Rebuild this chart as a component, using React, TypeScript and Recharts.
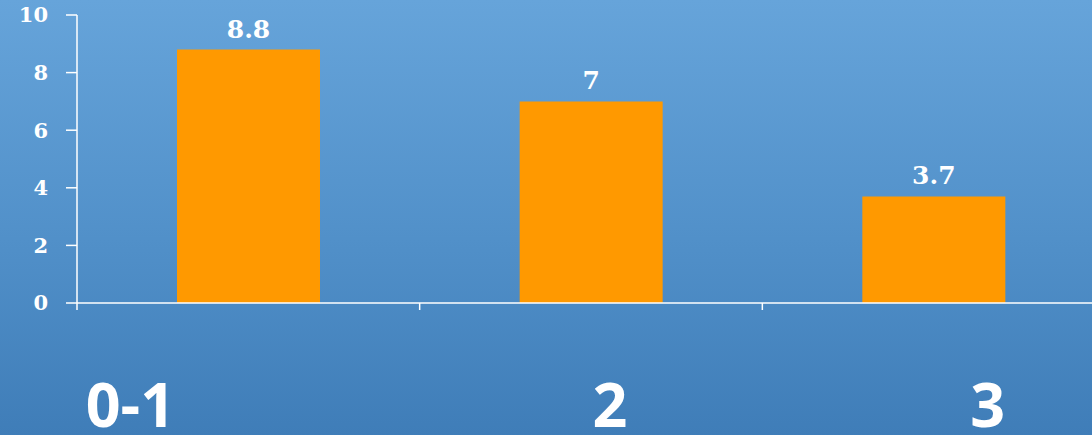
import { BarChart, Bar, XAxis, YAxis, LabelList } from "recharts";

const CATEGORIES = ["0-1", "2", "3"];
const VALUES = [8.8, 7, 3.7];
const Y_TICKS = [0, 2, 4, 6, 8, 10];

// layout
const CHART_W = 1105;
const CHART_H = 435;
const Y_W = 77;
const BAND = (CHART_W - Y_W) / CATEGORIES.length;
const LABEL_DX = [-118, 19, 54];

const data = CATEGORIES.map((c, i) => ({ name: c, value: VALUES[i] }));

const XTick = (props: any) => {
  const { x, y, payload, index } = props;
  const left = x - BAND / 2;
  return (
    <g>
      <line x1={left} x2={left} y1={y - 8} y2={y - 1} stroke="#fff" strokeWidth={1.5} />
      <text
        x={x + (LABEL_DX[index] ?? 0)}
        y={y + 116}
        textAnchor="middle"
        fill="#fff"
        fontFamily="'Open Sans', sans-serif"
        fontWeight={700}
        fontSize={61}
      >
        {payload.value}
      </text>
    </g>
  );
};

export default function App() {
  return (
    <div
      style={{
        position: "absolute",
        left: 0,
        top: 0,
        width: 1092,
        height: 435,
        overflow: "hidden",
        background: "linear-gradient(180deg, #66a4da 0%, #5190c9 55%, #3f7db8 100%)",
      }}
    >
      <BarChart
        width={CHART_W}
        height={CHART_H}
        data={data}
        margin={{ top: 15, right: 0, bottom: 0, left: 0 }}
        barSize={143}
      >
        <YAxis
          width={Y_W}
          domain={[0, 10]}
          ticks={Y_TICKS}
          axisLine={{ stroke: "#fff", strokeWidth: 1.5 }}
          tickLine={{ stroke: "#fff", strokeWidth: 1.5 }}
          tickSize={11}
          tickMargin={18}
          tick={{ fill: "#fff", fontFamily: "'DejaVu Serif', serif", fontWeight: 700, fontSize: 21 }}
        />
        <XAxis
          dataKey="name"
          height={132}
          axisLine={{ stroke: "#fff", strokeWidth: 1.5 }}
          tickLine={false}
          tick={<XTick />}
          interval={0}
        />
        <Bar dataKey="value" fill="#ff9900" isAnimationActive={false}>
          <LabelList
            dataKey="value"
            position="top"
            offset={12}
            fill="#fff"
            fontFamily="'DejaVu Serif', serif"
            fontWeight={700}
            fontSize={25}
          />
        </Bar>
      </BarChart>
    </div>
  );
}
